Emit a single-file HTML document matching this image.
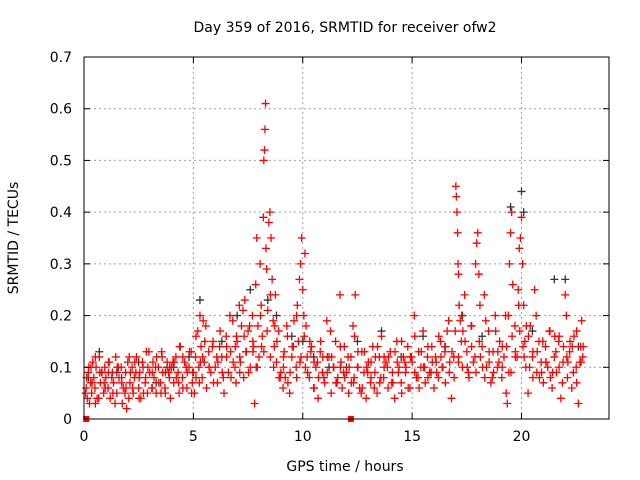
<!DOCTYPE html>
<html><head><meta charset="utf-8"><style>
html,body{margin:0;padding:0;background:#fff;}
svg{display:block;font-family:"DejaVu Sans","Liberation Sans",sans-serif;}
</style></head><body>
<svg id="chart" width="640" height="480">
<text x="345" y="32" font-size="14" text-anchor="middle">Day 359 of 2016, SRMTID for receiver ofw2</text>
<text x="345" y="471" font-size="14" text-anchor="middle">GPS time / hours</text>
<text transform="translate(18,238) rotate(-90)" font-size="14" text-anchor="middle">SRMTID / TECUs</text>
<g id="grid"></g>
<g id="black"></g>
<g id="red"></g>
<g id="axes"></g>
</svg>
<script>
const xTicks=[0,5,10,15,20];
const yTicks=[0,0.1,0.2,0.3,0.4,0.5,0.6,0.7];
const yTickLabels=["0","0.1","0.2","0.3","0.4","0.5","0.6","0.7"];
const redHours=[0.1,0.15,0.2,0.25,0.3,0.35,0.4,0.45,0.5,0.55,0.6,0.7,0.75,0.8,0.9,0.95,
1.0,1.1,1.15,1.2,1.3,1.35,1.45,1.5,1.6,1.7,1.75,1.8,1.9,1.95,2.0,2.05,
2.1,2.2,2.25,2.3,2.4,2.5,2.55,2.6,2.7,2.8,2.85,2.9,3.0,
3.1,3.15,3.2,3.3,3.4,3.5,3.55,3.6,3.7,3.8,3.9,3.95,
4.0,4.1,4.2,4.3,4.35,4.4,4.5,4.6,4.7,4.8,4.9,4.95,
5.0,5.05,5.1,5.2,5.25,5.3,5.35,5.4,5.45,5.5,5.6,5.7,5.8,5.9,
6.0,6.1,6.2,6.3,6.4,6.5,6.6,6.7,6.8,6.9,6.95,
7.0,7.1,7.15,7.2,7.3,7.35,7.4,7.5,7.6,7.7,7.75,7.8,7.85,7.9,7.95,8.0,8.05,8.1,8.15,8.2,8.22,8.25,8.27,8.3,8.32,8.35,8.4,8.45,8.5,8.55,8.6,8.65,8.7,8.75,8.8,8.9,
9.0,9.1,9.15,9.2,9.3,9.4,9.5,9.6,9.7,9.75,9.8,9.85,9.9,9.95,10.0,10.05,10.1,10.15,10.2,10.3,10.4,10.5,10.6,10.7,10.8,10.9,
11.0,11.1,11.2,11.3,11.4,11.5,11.6,11.7,11.75,11.8,11.9,12.0,12.1,12.2,12.3,12.35,12.4,12.5,12.6,12.7,12.8,12.9,13.0,
13.1,13.2,13.3,13.4,13.5,13.6,13.7,13.8,13.9,14.0,14.1,14.2,14.3,14.4,14.5,14.6,14.7,14.8,14.9,
15.0,15.1,15.2,15.3,15.4,15.5,15.6,15.7,15.8,15.9,16.0,16.1,16.2,16.3,16.4,16.5,16.6,16.7,16.8,16.9,
17.0,17.02,17.05,17.08,17.1,17.12,17.15,17.2,17.25,17.3,17.4,17.5,17.6,17.7,17.8,17.9,17.95,18.0,18.05,18.1,18.2,18.3,18.4,18.5,18.6,18.7,18.8,18.9,
19.0,19.1,19.2,19.3,19.35,19.4,19.45,19.5,19.55,19.6,19.7,19.8,19.85,19.9,19.95,20.0,20.05,20.1,20.15,20.2,20.3,20.4,20.5,20.6,20.7,20.8,20.9,
21.0,21.1,21.2,21.3,21.4,21.5,21.6,21.7,21.8,21.9,22.0,22.05,22.1,22.2,22.3,22.4,22.5,22.6,22.7,22.75,22.8,
0.12,0.32,0.52,0.72,0.92,1.12,1.32,1.52,1.72,1.92,2.12,2.32,2.52,2.72,2.92,3.12,3.32,3.52,3.72,3.92,4.12,4.32,4.52,4.72,4.92,5.12,5.32,5.52,5.72,5.92,6.12,6.32,6.52,6.72,6.92,7.12,7.32,7.52,7.72,7.92,8.12,8.52,8.72,8.92,9.12,9.32,9.52,9.72,9.92,10.12,10.32,10.52,10.72,10.92,11.12,11.32,11.52,11.72,11.92,12.12,12.32,12.52,12.72,12.92,13.12,13.32,13.52,13.72,13.92,14.12,14.32,14.52,14.72,14.92,15.12,15.32,15.52,15.72,15.92,16.12,16.32,16.52,16.72,16.92,17.12,17.32,17.52,17.72,17.92,18.12,18.32,18.52,18.72,18.92,19.12,19.32,19.52,19.72,19.92,20.12,20.32,20.52,20.72,20.92,21.12,21.32,21.52,21.72,21.92,22.12,22.32,22.52,22.72];
const redValues=[.06,.04,.09,.03,.07,.05,.11,.08,.06,.1,.04,.12,.07,.09,.05,.1,
.08,.06,.11,.04,.09,.07,.12,.05,.08,.1,.03,.06,.09,.02,.11,.04,
.07,.1,.05,.08,.12,.06,.09,.04,.1,.07,.13,.05,.09,
.06,.11,.08,.05,.1,.07,.13,.09,.06,.11,.08,.04,
.1,.07,.12,.09,.05,.14,.08,.11,.06,.1,.13,.07,
.09,.05,.12,.17,.1,.2,.14,.08,.19,.11,.06,.13,.09,.15,
.1,.07,.14,.12,.05,.16,.09,.13,.19,.1,.07,
.15,.22,.11,.18,.08,.23,.13,.17,.1,.2,.14,.03,.26,.35,.18,.12,.3,.22,.16,.39,.5,.52,.56,.61,.33,.29,.21,.38,.4,.35,.27,.19,.14,.24,.11,.17,
.09,.06,.13,.08,.16,.05,.12,.19,.1,.22,.15,.27,.3,.35,.25,.2,.32,.18,.12,.08,.14,.06,.1,.04,.13,.09,
.07,.19,.12,.05,.1,.15,.08,.24,.11,.06,.14,.09,.05,.12,.18,.08,.24,.1,.06,.13,.09,.04,.11,
.07,.14,.09,.05,.12,.16,.08,.11,.06,.13,.09,.04,.15,.1,.07,.12,.09,.14,.06,
.11,.2,.08,.13,.1,.17,.07,.12,.09,.14,.06,.11,.08,.15,.1,.13,.17,.09,.04,.12,
.45,.43,.4,.36,.3,.28,.22,.19,.15,.1,.24,.13,.08,.18,.11,.3,.34,.36,.28,.22,.14,.24,.1,.17,.07,.13,.2,.1,
.15,.08,.12,.05,.03,.2,.3,.36,.4,.26,.18,.12,.25,.33,.35,.39,.3,.22,.15,.1,.05,.18,.12,.25,.09,.15,.11,
.07,.14,.1,.17,.06,.12,.09,.15,.04,.11,.24,.2,.08,.13,.06,.16,.1,.03,.14,.19,.12,
.08,.1,.03,.09,.07,.09,.05,.1,.08,.06,.09,.11,.08,.05,.1,.09,.12,.05,.09,.1,.11,.07,.12,.09,.05,.08,.11,.15,.1,.07,.11,.09,.12,.08,.14,.12,.16,.09,.13,.1,.14,.12,.18,.08,.1,.07,.14,.08,.12,.1,.15,.11,.08,.12,.09,.12,.07,.1,.08,.1,.07,.13,.06,.1,.08,.12,.07,.1,.12,.07,.11,.05,.1,.12,.09,.06,.1,.08,.11,.09,.12,.07,.11,.08,.12,.17,.1,.14,.09,.12,.08,.11,.09,.13,.1,.14,.09,.13,.17,.12,.16,.08,.13,.09,.11,.08,.16,.1,.14,.11,.14,.07,.11];
const redHours2=[0.07,0.22,0.37,0.52,0.67,0.82,0.97,1.12,1.27,1.42,1.57,1.72,1.87,
2.07,2.22,2.37,2.52,2.67,2.82,2.97,3.12,3.27,3.42,3.57,3.72,3.87,
4.07,4.22,4.37,4.52,4.67,4.82,4.97,5.12,5.27,5.42,5.57,5.72,5.87,
6.07,6.22,6.37,6.52,6.67,6.82,6.97,7.12,7.27,7.42,7.57,7.72,7.87,
8.07,8.22,8.37,8.52,8.67,8.82,8.97,9.12,9.27,9.42,9.57,9.72,9.87,
10.07,10.22,10.37,10.52,10.67,10.82,10.97,11.12,11.27,11.42,11.57,11.72,11.87,
12.07,12.22,12.37,12.52,12.67,12.82,12.97,13.12,13.27,13.42,13.57,13.72,13.87,
14.07,14.22,14.37,14.52,14.67,14.82,14.97,15.12,15.27,15.42,15.57,15.72,15.87,
16.07,16.22,16.37,16.52,16.67,16.82,16.97,17.12,17.27,17.42,17.57,17.72,17.87,
18.07,18.22,18.37,18.52,18.67,18.82,18.97,19.12,19.27,19.42,19.57,19.72,19.87,
20.07,20.22,20.37,20.52,20.67,20.82,20.97,21.12,21.27,21.42,21.57,21.72,21.87,
22.07,22.22,22.37,22.52,22.67,22.82];
const redValues2=[.05,.1,.07,.12,.04,.09,.06,.11,.08,.03,.1,.07,.05,
.12,.06,.09,.04,.11,.08,.13,.06,.1,.07,.12,.05,.09,
.11,.08,.14,.06,.1,.13,.09,.16,.07,.12,.18,.1,.14,
.12,.17,.08,.14,.2,.11,.16,.09,.21,.13,.18,.15,.1,
.2,.13,.17,.24,.1,.15,.08,.12,.18,.09,.14,.2,.11,
.16,.09,.13,.06,.11,.15,.08,.12,.17,.1,.07,.14,.09,
.12,.07,.16,.1,.05,.13,.09,.11,.06,.14,.08,.12,.1,
.07,.13,.09,.15,.11,.06,.12,.16,.08,.13,.1,.14,.09,
.12,.16,.1,.14,.19,.13,.17,.11,.2,.15,.09,.18,.12,
.15,.1,.19,.13,.08,.17,.11,.14,.2,.09,.16,.12,.22,
.14,.18,.1,.13,.2,.08,.15,.11,.17,.09,.13,.16,.07,
.12,.15,.09,.17,.11,.14];
const blackHours=[0.2,0.7,1.5,2.5,3.3,4.1,4.8,5.3,6.3,7.0,7.6,8.4,8.8,9.5,10.0,11.2,12.5,13.6,14.5,15.5,16.5,17.3,18.2,19.5,20.0,20.1,20.5,21.5,22.0,22.6,3.8,12.0,10.5];
const blackValues=[.08,.13,.09,.11,.07,.1,.12,.23,.15,.2,.25,.23,.2,.16,.15,.1,.15,.17,.12,.16,.14,.2,.16,.41,.44,.4,.17,.27,.27,.14,.1,.1,.12];
const squareHours=[0.1,12.2];
const squareValues=[0,0];

const L=84,R=609,T=57,B=419,XMAX=24,YMAX=0.7;
const xs=h=>L+h/XMAX*(R-L);
const ys=v=>B-v/YMAX*(B-T);
const NS="http://www.w3.org/2000/svg";
function mk(tag,attrs,parent){const e=document.createElementNS(NS,tag);for(const k in attrs)e.setAttribute(k,attrs[k]);parent.appendChild(e);return e;}
const grid=document.getElementById('grid'),axes=document.getElementById('axes');
xTicks.forEach((t,i)=>{
  if(t>0){const g=mk('line',{x1:xs(t),x2:xs(t),y1:T,y2:B,stroke:'#a0a0a0','stroke-dasharray':'2,3'},grid);
  
  }
  mk('line',{x1:xs(t),x2:xs(t),y1:B,y2:B-6,stroke:'#000'},axes);
  mk('line',{x1:xs(t),x2:xs(t),y1:T,y2:T+6,stroke:'#000'},axes);
  const tx=mk('text',{x:xs(t),y:B+22,'font-size':14,'text-anchor':'middle'},axes);
  tx.textContent=String(t);
  
  
});
yTicks.forEach((t,i)=>{
  if(t>0&&t<YMAX){const g=mk('line',{x1:L,x2:R,y1:ys(t),y2:ys(t),stroke:'#a0a0a0','stroke-dasharray':'2,3'},grid);
  
  }
  mk('line',{x1:L,x2:L+6,y1:ys(t),y2:ys(t),stroke:'#000'},axes);
  mk('line',{x1:R,x2:R-6,y1:ys(t),y2:ys(t),stroke:'#000'},axes);
  const tx=mk('text',{x:L-12,y:ys(t)+5,'font-size':14,'text-anchor':'end'},axes);
  tx.textContent=yTickLabels[i];
  
  
});
const frame=mk('rect',{x:L,y:T,width:R-L,height:B-T,fill:'none',stroke:'#000'},axes);


function plus(parent,h,v,col,name){
  const x=xs(h),y=ys(v);
  const p=mk('path',{d:`M${x-4},${y}H${x+4}M${x},${y-4}V${y+4}`,stroke:col,'stroke-width':1.3,fill:'none'},parent);
  
  
}
const bg=document.getElementById('black'),rg=document.getElementById('red');
blackHours.forEach((h,i)=>plus(bg,h,blackValues[i],'#333','black-point'));
redHours.forEach((h,i)=>plus(rg,h,redValues[i],'#ff0000','red-point'));
redHours2.forEach((h,i)=>plus(rg,h,redValues2[i],'#ff0000','red-point'));
squareHours.forEach((h,i)=>{
  const s=mk('rect',{x:xs(h)-3,y:ys(squareValues[i])-3,width:6,height:6,fill:'#ff0000'},rg);
  
  
});
</script>
</body></html>
